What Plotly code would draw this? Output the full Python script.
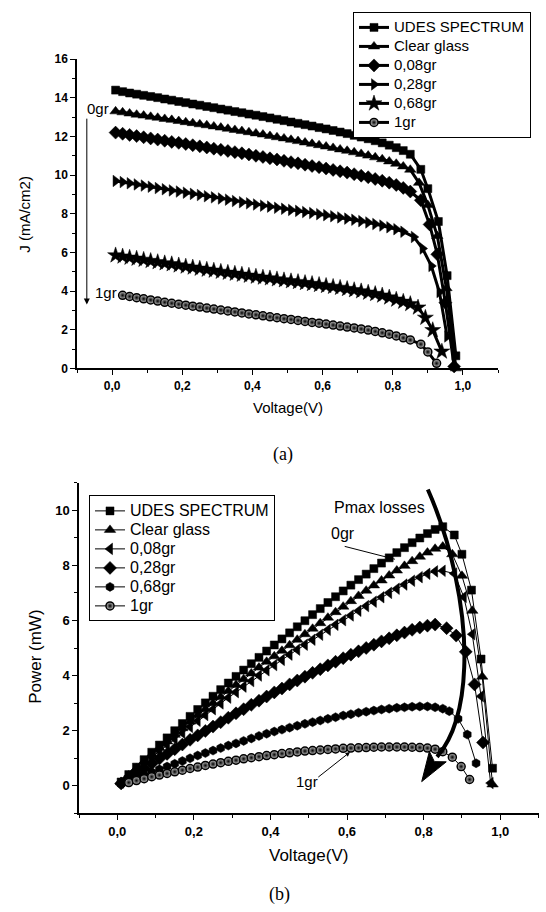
import plotly.graph_objects as go

# ---------------- data ----------------
V_GRID = [0.01, 0.03, 0.05, 0.07, 0.09, 0.11, 0.13, 0.15, 0.17, 0.19, 0.21,
          0.23, 0.25, 0.27, 0.29, 0.31, 0.33, 0.35, 0.37, 0.39, 0.41, 0.43,
          0.45, 0.47, 0.49, 0.51, 0.53, 0.55, 0.57, 0.59, 0.61, 0.63, 0.65,
          0.67, 0.69, 0.71, 0.73, 0.75, 0.77, 0.79, 0.81, 0.83, 0.85]

SERIES_NAMES_A = ["UDES SPECTRUM", "Clear glass", "0,08gr", "0,28gr", "0,68gr", "1gr"]
SERIES_NAMES_B = ["UDES SPECTRUM", "Clear glass", "0,08gr", "0,28gr", "0,68gr", "1gr"]

# (a) current density J (mA/cm2) vs voltage
JV_UDES_V = V_GRID + [0.88, 0.90, 0.93, 0.955, 0.98]
JV_UDES_J = [14.40, 14.32, 14.25, 14.19, 14.13, 14.07, 14.01, 13.94, 13.88, 13.81,
             13.75, 13.68, 13.62, 13.55, 13.49, 13.42, 13.36, 13.29, 13.23, 13.16,
             13.10, 13.03, 12.96, 12.89, 12.82, 12.75, 12.68, 12.61, 12.54, 12.46,
             12.39, 12.31, 12.23, 12.15, 12.06, 11.97, 11.88, 11.78, 11.67, 11.55,
             11.42, 11.27, 11.08, 10.30, 9.30, 7.60, 4.80, 0.65]
JV_CLEAR_V = V_GRID + [0.875, 0.90, 0.927, 0.953, 0.98]
JV_CLEAR_J = [13.30, 13.25, 13.19, 13.13, 13.08, 13.02, 12.97, 12.91, 12.86, 12.80,
              12.74, 12.69, 12.63, 12.58, 12.52, 12.46, 12.40, 12.34, 12.28, 12.22,
              12.16, 12.10, 12.03, 11.96, 11.90, 11.83, 11.76, 11.69, 11.62, 11.55,
              11.48, 11.41, 11.33, 11.26, 11.18, 11.10, 11.01, 10.92, 10.82, 10.71,
              10.59, 10.45, 10.28, 9.60, 8.45, 6.85, 4.15, 0.00]
JV_008_V = V_GRID + [0.88, 0.905, 0.927, 0.95, 0.975]
JV_008_J = [12.20, 12.14, 12.08, 12.02, 11.96, 11.90, 11.84, 11.78, 11.72, 11.67,
            11.61, 11.55, 11.49, 11.43, 11.37, 11.31, 11.25, 11.19, 11.13, 11.07,
            11.00, 10.94, 10.87, 10.81, 10.74, 10.67, 10.61, 10.54, 10.47, 10.41,
            10.34, 10.27, 10.20, 10.13, 10.05, 9.97, 9.89, 9.80, 9.71, 9.61,
            9.49, 9.34, 9.15, 8.70, 7.45, 5.90, 3.40, 0.10]
JV_028_V = V_GRID[:42] + [0.86, 0.885, 0.91, 0.933, 0.955]
JV_028_J = [9.70, 9.64, 9.58, 9.52, 9.46, 9.40, 9.33, 9.27, 9.21, 9.15,
            9.09, 9.03, 8.97, 8.91, 8.85, 8.79, 8.73, 8.66, 8.60, 8.54,
            8.48, 8.42, 8.37, 8.31, 8.26, 8.20, 8.15, 8.09, 8.04, 7.98,
            7.93, 7.87, 7.81, 7.75, 7.69, 7.62, 7.55, 7.47, 7.39, 7.30,
            7.20, 7.07, 6.80, 6.20, 5.30, 3.95, 1.65]
JV_068_V = V_GRID + [0.872, 0.893, 0.914, 0.94]
JV_068_J = [5.85, 5.79, 5.73, 5.68, 5.62, 5.56, 5.50, 5.44, 5.39, 5.33,
            5.27, 5.22, 5.16, 5.11, 5.06, 5.00, 4.95, 4.90, 4.85, 4.80,
            4.75, 4.70, 4.66, 4.61, 4.56, 4.51, 4.47, 4.42, 4.37, 4.32,
            4.27, 4.22, 4.17, 4.11, 4.05, 3.99, 3.92, 3.85, 3.77, 3.67,
            3.56, 3.45, 3.33, 3.15, 2.62, 1.98, 0.87]
JV_1_V = V_GRID[1:] + [0.88, 0.90, 0.925]
JV_1_J = [3.78, 3.72, 3.66, 3.60, 3.54, 3.48, 3.42, 3.37, 3.32, 3.27,
          3.22, 3.17, 3.12, 3.07, 3.02, 2.97, 2.92, 2.87, 2.82, 2.77,
          2.72, 2.67, 2.62, 2.57, 2.53, 2.48, 2.43, 2.38, 2.34, 2.29,
          2.24, 2.19, 2.14, 2.09, 2.04, 1.98, 1.91, 1.84, 1.77, 1.68,
          1.58, 1.47, 1.25, 0.85, 0.26]

# (b) power (mW) vs voltage
PV_UDES_V = V_GRID + [0.88, 0.90, 0.925, 0.95, 0.98]
PV_UDES_P = [0.14, 0.41, 0.68, 0.95, 1.22, 1.48, 1.74, 2.00, 2.26, 2.52,
             2.77, 3.01, 3.25, 3.49, 3.73, 3.97, 4.20, 4.43, 4.66, 4.89,
             5.11, 5.33, 5.55, 5.77, 5.99, 6.21, 6.43, 6.65, 6.86, 7.07,
             7.28, 7.48, 7.68, 7.88, 8.08, 8.27, 8.46, 8.64, 8.82, 8.99,
             9.15, 9.30, 9.40, 9.10, 8.40, 7.10, 4.60, 0.64]
PV_CLEAR_V = V_GRID + [0.875, 0.90, 0.927, 0.953, 0.98]
PV_CLEAR_P = [0.13, 0.38, 0.63, 0.88, 1.13, 1.37, 1.61, 1.85, 2.09, 2.33,
              2.56, 2.78, 3.00, 3.22, 3.44, 3.66, 3.87, 4.08, 4.29, 4.50,
              4.70, 4.90, 5.10, 5.30, 5.50, 5.70, 5.90, 6.10, 6.30, 6.50,
              6.70, 6.89, 7.08, 7.27, 7.45, 7.63, 7.81, 7.98, 8.15, 8.31,
              8.46, 8.60, 8.68, 8.40, 7.62, 6.35, 3.96, 0.05]
PV_008_V = V_GRID + [0.88, 0.905, 0.927, 0.95, 0.975]
PV_008_P = [0.12, 0.36, 0.59, 0.82, 1.04, 1.26, 1.48, 1.70, 1.92, 2.14,
            2.36, 2.57, 2.78, 2.99, 3.20, 3.40, 3.60, 3.80, 4.00, 4.19,
            4.38, 4.57, 4.76, 4.94, 5.12, 5.30, 5.48, 5.66, 5.84, 6.01,
            6.18, 6.35, 6.52, 6.68, 6.84, 7.00, 7.15, 7.30, 7.44, 7.57,
            7.69, 7.78, 7.80, 7.70, 6.85, 5.50, 3.25, 0.10]
PV_028_V = V_GRID[:42] + [0.86, 0.885, 0.91, 0.933, 0.955]
PV_028_P = [0.09, 0.27, 0.45, 0.63, 0.81, 0.99, 1.16, 1.33, 1.50, 1.67,
            1.83, 1.99, 2.15, 2.31, 2.47, 2.63, 2.78, 2.94, 3.09, 3.24,
            3.39, 3.53, 3.68, 3.82, 3.96, 4.10, 4.23, 4.37, 4.50, 4.63,
            4.76, 4.88, 5.00, 5.12, 5.24, 5.35, 5.46, 5.56, 5.66, 5.74,
            5.81, 5.85, 5.72, 5.45, 4.86, 3.68, 1.57]
PV_068_V = V_GRID + [0.867, 0.89, 0.914, 0.937]
PV_068_P = [0.06, 0.17, 0.28, 0.39, 0.50, 0.60, 0.70, 0.80, 0.90, 1.00,
            1.10, 1.19, 1.28, 1.37, 1.46, 1.54, 1.63, 1.72, 1.81, 1.89,
            1.97, 2.04, 2.11, 2.18, 2.25, 2.31, 2.37, 2.43, 2.49, 2.55,
            2.60, 2.65, 2.69, 2.73, 2.77, 2.80, 2.83, 2.85, 2.87, 2.88,
            2.88, 2.85, 2.80, 2.71, 2.43, 1.86, 0.82]
PV_1_V = V_GRID[1:] + [0.875, 0.898, 0.92]
PV_1_P = [0.12, 0.19, 0.26, 0.33, 0.39, 0.45, 0.51, 0.57, 0.63, 0.68,
          0.74, 0.79, 0.84, 0.89, 0.93, 0.98, 1.02, 1.06, 1.10, 1.13,
          1.17, 1.20, 1.23, 1.26, 1.28, 1.30, 1.32, 1.34, 1.36, 1.37,
          1.38, 1.39, 1.40, 1.41, 1.41, 1.41, 1.41, 1.40, 1.39, 1.37,
          1.33, 1.24, 1.04, 0.70, 0.23]

X_RANGE = [-0.1, 1.1]
YA_RANGE = [0, 16]
YB_RANGE = [-1, 11]

# ---------------- figure ----------------
FONT = "Liberation Sans, Arial, sans-serif"
SERIF = "Liberation Serif, Times New Roman, serif"
W, H = 546, 912

fig = go.Figure()

def add(x, y, name, symbol, size, lw, xa, ya, legend, fs, sphere=False):
    if sphere:
        marker = dict(symbol="circle", size=size, color="#c8c8c8",
                      gradient=dict(type="radial", color="#000000"),
                      line=dict(color="black", width=1.5))
    else:
        marker = dict(symbol=symbol, size=size, color="black",
                      line=dict(color="black", width=0.5))
    fig.add_trace(go.Scatter(
        x=x, y=y, mode="lines+markers",
        name=f"<span style='font-size:{fs}px'>{name}</span>",
        line=dict(color="black", width=lw), marker=marker,
        xaxis=xa, yaxis=ya, legend=legend, cliponaxis=False))

# panel (a)
A = [(JV_UDES_V, JV_UDES_J, "square", 8),
     (JV_CLEAR_V, JV_CLEAR_J, "triangle-up", 10),
     (JV_008_V, JV_008_J, "diamond", 10),
     (JV_028_V, JV_028_J, "triangle-right", 10),
     (JV_068_V, JV_068_J, "star", 12),
     (JV_1_V, JV_1_J, "circle", 8)]
for i, (x, y, sym, sz) in enumerate(A):
    add(x, y, SERIES_NAMES_A[i], sym, sz, 3, "x", "y", "legend", 15, sphere=(i == 5))

# panel (b)
B = [(PV_UDES_V, PV_UDES_P, "square", 8),
     (PV_CLEAR_V, PV_CLEAR_P, "triangle-up", 10),
     (PV_008_V, PV_008_P, "triangle-left", 10),
     (PV_028_V, PV_028_P, "diamond", 10),
     (PV_068_V, PV_068_P, "hexagon", 9),
     (PV_1_V, PV_1_P, "circle", 8)]
for i, (x, y, sym, sz) in enumerate(B):
    add(x, y, SERIES_NAMES_B[i], sym, sz, 1, "x2", "y2", "legend2", 16, sphere=(i == 5))

def axis(domain, rng, dtick, minor_dtick, tick0, fsize, anchor, fmt=None):
    d = dict(domain=domain, range=rng, dtick=dtick, tick0=tick0, anchor=anchor,
             showline=True, linecolor="black", linewidth=1.5, mirror=False,
             ticks="outside", ticklen=5, tickwidth=1.3, tickcolor="black",
             showgrid=False, zeroline=False,
             minor=dict(ticks="outside", ticklen=3, tickwidth=1.2, tickcolor="black",
                        dtick=minor_dtick, tick0=tick0, showgrid=False),
             tickfont=dict(family=FONT, size=fsize, color="black", weight="bold"))
    if fmt:
        d["tickformat"] = fmt
    return d

fig.update_layout(
    width=W, height=H, margin=dict(l=0, r=0, t=0, b=0),
    paper_bgcolor="white", plot_bgcolor="white", separators=",.",
    xaxis=axis([77 / W, 498 / W], X_RANGE, 0.2, 0.1, 0, 12, "y", ".1f"),
    yaxis=axis([1 - 367 / H, 1 - 53 / H], YA_RANGE, 2, 1, 0, 12, "x"),
    xaxis2=axis([79 / W, 538.5 / W], X_RANGE, 0.2, 0.1, 0, 13, "y2", ".1f"),
    yaxis2=axis([1 - 819 / H, 1 - 483 / H], YB_RANGE, 2, 1, 0, 13, "x2"),
    legend=dict(x=353 / W, y=1 - 5 / H, xanchor="left", yanchor="top",
                bordercolor="black", borderwidth=1, bgcolor="white",
                font=dict(family=FONT, size=11, color="black"), tracegroupgap=0),
    legend2=dict(x=89 / W, y=1 - 496 / H, xanchor="left", yanchor="top",
                 bordercolor="black", borderwidth=1, bgcolor="white",
                 font=dict(family=FONT, size=12, color="black"), tracegroupgap=0),
    showlegend=True,
)

ann = []
def text(x, y, s, size, xref="paper", yref="paper", angle=0, family=FONT):
    ann.append(dict(x=x, y=y, xref=xref, yref=yref, text=s, showarrow=False,
                    textangle=angle, xanchor="center", yanchor="middle",
                    font=dict(family=family, size=size, color="black")))

# axis titles and panel labels
text(287.5 / W, 1 - 407 / H, "Voltage(V)", 15)
text(25 / W, 1 - 211 / H, "J (mA/cm2)", 15, angle=-90)
text(308.5 / W, 1 - 862 / H, "Voltage(V)", 17)
text(36 / W, 1 - 660 / H, "Power (mW)", 17, angle=-90)
text(282.5 / W, 1 - 454 / H, "(a)", 18, family=SERIF)
text(279 / W, 1 - 901 / H, "(b)", 18, family=SERIF)

# panel (a) annotations
text(-0.040, 13.45, "0gr", 15, "x", "y")
text(-0.017, 3.92, "1gr", 15, "x", "y")
ann.append(dict(x=-0.072, y=3.3, ax=-0.072, ay=13.0, xref="x", yref="y",
                axref="x", ayref="y", text="", showarrow=True, arrowhead=2,
                arrowsize=1.2, arrowwidth=1, arrowcolor="black"))

# panel (b) annotations
text(0.686, 10.11, "Pmax losses", 16, "x2", "y2")
text(0.589, 9.14, "0gr", 16, "x2", "y2")
ann.append(dict(x=0.725, y=8.22, ax=0.590, ay=8.70, xref="x2", yref="y2",
                axref="x2", ayref="y2", text="", showarrow=True, arrowhead=0,
                arrowwidth=1, arrowcolor="black"))
text(0.4954, 0.143, "1gr", 15, "x2", "y2")
ann.append(dict(x=0.6077, y=1.225, ax=0.521, ay=0.275, xref="x2", yref="y2",
                axref="x2", ayref="y2", text="", showarrow=True, arrowhead=2,
                arrowsize=0.9, arrowwidth=1, arrowcolor="black"))
fig.update_layout(annotations=ann)

# big curved "Pmax losses" arrow
fig.add_shape(type="path", xref="x2", yref="y2",
              path="M 0.811,10.75 C 0.870,8.90 0.912,6.40 0.906,4.30 C 0.902,2.80 0.875,1.70 0.835,1.05",
              line=dict(color="black", width=4))
fig.add_shape(type="path", xref="x2", yref="y2",
              path="M 0.795,0.154 L 0.859,0.871 L 0.828,0.879 L 0.815,1.250 Z",
              fillcolor="black", line=dict(color="black", width=1))

fig.write_html("out.html")
